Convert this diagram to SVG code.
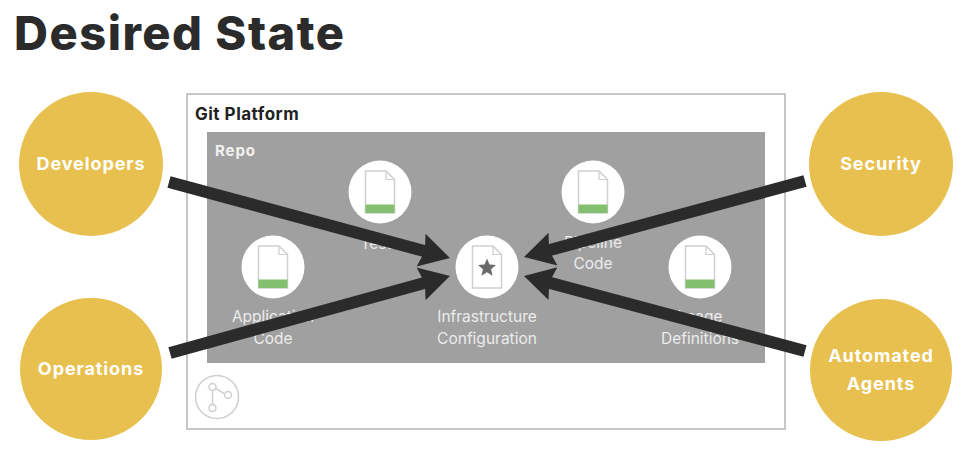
<svg xmlns="http://www.w3.org/2000/svg" width="966" height="461" viewBox="0 0 966 461">
<style>
text{font-family:"Inter","Open Sans","Liberation Sans",sans-serif}
.actor circle{fill:#e8c04f}
.actor text{fill:#fff;font-size:18px;font-weight:700;text-anchor:middle;letter-spacing:.9px}
.file circle{fill:#fff}
.lbl{fill:#ececec;font-size:15.500px;text-anchor:middle}
.page{fill:#fff;stroke:#cfcfcf;stroke-width:1.5}
.fold{fill:none;stroke:#cfcfcf;stroke-width:1.2}
.bar{fill:#82bf6e}
.conn{stroke:#2b2b2b;stroke-width:12;fill:none;marker-end:url(#ah)}
</style>
<defs>
<marker id="ah" markerUnits="userSpaceOnUse" markerWidth="36" markerHeight="40" refX="10" refY="20" orient="auto">
<path d="M0 3L30 20L0 37L4 20Z" fill="#2b2b2b"/>
</marker>
<g id="doc">
<path class="page" d="M-14.500-21H6L14.500-12.500V21H-14.500Z"/>
<path class="fold" d="M6-21V-12.500H14.500"/>
</g>
</defs>
<rect width="966" height="461" fill="#fff"/>
<text x="14" y="50" font-size="47" font-weight="800" fill="#2b2b2b" letter-spacing="1.500">Desired State</text>

<g id="git-platform">
<rect x="187" y="94" width="598" height="335" fill="#fff" stroke="#b5b5b5" stroke-width="1.5"/>
<text x="195" y="120" font-size="17" font-weight="700" fill="#222" letter-spacing=".5">Git Platform</text>
<g fill="none" stroke="#cfcfcf" stroke-width="1.500">
<circle cx="217" cy="397" r="21.500"/>
<circle cx="212.500" cy="387" r="3.500"/>
<circle cx="212.500" cy="408" r="3.500"/>
<circle cx="228" cy="395" r="3.500"/>
<path d="M212.500 390.500V404.500M215.500 388.500L224.700 393.800"/>
</g>
</g>

<g id="repo">
<rect x="207" y="132" width="558" height="231" fill="#a0a0a0"/>
<text x="215" y="156" font-size="15" font-weight="700" fill="#f2f2f2" letter-spacing=".9">Repo</text>
</g>

<g id="tests" class="file">
<circle cx="380" cy="192" r="31.500"/>
<use href="#doc" x="380" y="192"/>
<rect class="bar" x="365.500" y="204.500" width="29" height="8.500"/>
<text class="lbl" x="380" y="249">Tests</text>
</g>
<g id="pipeline-code" class="file">
<circle cx="593" cy="192" r="31.500"/>
<use href="#doc" x="593" y="192"/>
<rect class="bar" x="578.500" y="204.500" width="29" height="8.500"/>
<text class="lbl" x="593" y="248">Pipeline</text>
<text class="lbl" x="593" y="269">Code</text>
</g>
<g id="application-code" class="file">
<circle cx="273" cy="267" r="31.500"/>
<use href="#doc" x="273" y="267"/>
<rect class="bar" x="258.500" y="279.500" width="29" height="8.500"/>
<text class="lbl" x="273" y="322">Application</text>
<text class="lbl" x="273" y="344">Code</text>
</g>
<g id="image-definitions" class="file">
<circle cx="700" cy="267" r="31.500"/>
<use href="#doc" x="700" y="267"/>
<rect class="bar" x="685.500" y="279.500" width="29" height="8.500"/>
<text class="lbl" x="700" y="322">Image</text>
<text class="lbl" x="700" y="344">Definitions</text>
</g>
<g id="infrastructure-configuration" class="file">
<circle cx="487" cy="267" r="31.500"/>
<use href="#doc" x="487" y="267"/>
<path d="M487 258.500L489.500 264.600L496 265.100L491 269.300L492.600 275.700L487 272.300L481.400 275.700L483 269.300L478 265.100L484.500 264.600Z" fill="#6a6a6a"/>
<text class="lbl" x="487" y="322">Infrastructure</text>
<text class="lbl" x="487" y="344">Configuration</text>
</g>

<g id="developers" class="actor">
<circle cx="91" cy="164" r="72"/>
<text x="91" y="170">Developers</text>
</g>
<g id="operations" class="actor">
<circle cx="91" cy="369" r="71"/>
<text x="91" y="375">Operations</text>
</g>
<g id="security" class="actor">
<circle cx="881" cy="164" r="72"/>
<text x="881" y="170">Security</text>
</g>
<g id="automated-agents" class="actor">
<circle cx="881" cy="370" r="71"/>
<text x="881" y="362">Automated</text>
<text x="881" y="390">Agents</text>
</g>

<g id="connectors">
<line class="conn" x1="169" y1="182" x2="430.700" y2="252.800"/>
<line class="conn" x1="170" y1="353" x2="430.700" y2="281.300"/>
<line class="conn" x1="805" y1="181" x2="543.300" y2="251.800"/>
<line class="conn" x1="805" y1="351" x2="543.300" y2="281.100"/>
</g>
</svg>
